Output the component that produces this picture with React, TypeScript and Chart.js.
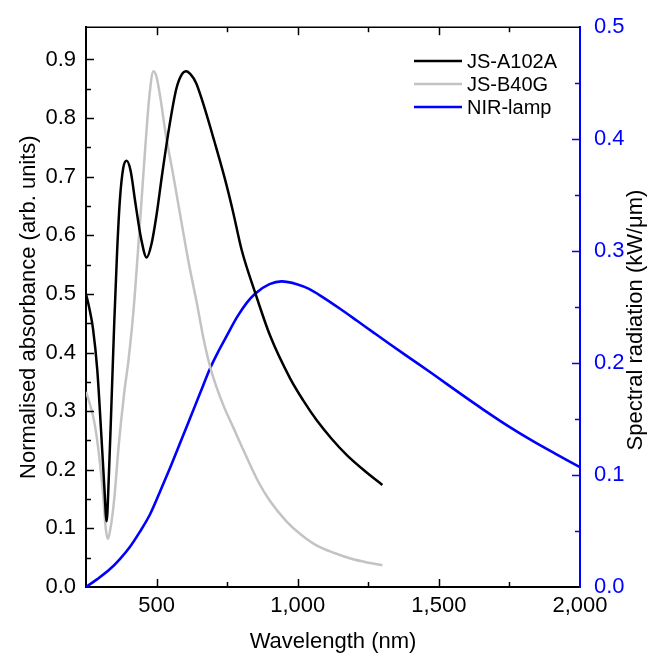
import React, { useEffect, useRef } from 'react';
import { Chart, registerables } from 'chart.js';

Chart.register(...registerables);

// ---- data ----
const SERIES_LABELS = ['JS-A102A', 'JS-B40G', 'NIR-lamp'];

const A_WL = [250, 262, 275, 290, 303, 315, 323, 331, 340, 350, 360, 370, 382, 394, 408, 425, 445, 465, 482, 500, 520, 545, 570, 590, 605, 620, 640, 665, 705, 740, 770, 802, 849, 902, 973, 1020, 1068, 1120, 1174, 1240, 1300];
const A_VAL = [0.5, 0.475, 0.44, 0.37, 0.27, 0.17, 0.112, 0.19, 0.31, 0.45, 0.57, 0.66, 0.715, 0.727, 0.71, 0.655, 0.595, 0.562, 0.585, 0.635, 0.705, 0.785, 0.85, 0.875, 0.88, 0.875, 0.86, 0.825, 0.76, 0.7, 0.642, 0.574, 0.5025, 0.429, 0.356, 0.318, 0.284, 0.253, 0.225, 0.197, 0.174];

const B_WL = [250, 265, 280, 295, 310, 320, 327, 335, 350, 365, 385, 400, 418, 441, 460, 475, 489, 500, 515, 530, 560, 589, 615, 642, 665, 689, 713, 740, 770, 810, 860, 900, 960, 1010, 1070, 1130, 1200, 1300];
const B_VAL = [0.333, 0.31, 0.28, 0.23, 0.16, 0.1, 0.082, 0.095, 0.15, 0.237, 0.33, 0.385, 0.47, 0.62, 0.75, 0.84, 0.88, 0.87, 0.83, 0.78, 0.7, 0.62, 0.55, 0.486, 0.427, 0.377, 0.34, 0.306, 0.274, 0.231, 0.18, 0.148, 0.112, 0.09, 0.07, 0.058, 0.047, 0.037];

const LAMP_WL = [250, 290, 335, 370, 406, 440, 477, 512, 548, 584, 619, 654, 689, 720, 749, 785, 820, 849, 900, 943, 997, 1040, 1091, 1150, 1209, 1270, 1327, 1400, 1480, 1580, 1660, 1750, 1835, 1920, 2000];
const LAMP_VAL = [0, 0.007, 0.016, 0.025, 0.036, 0.049, 0.065, 0.085, 0.1065, 0.129, 0.151, 0.173, 0.195, 0.211, 0.2245, 0.241, 0.254, 0.262, 0.2705, 0.273, 0.2705, 0.2663, 0.2585, 0.2485, 0.238, 0.227, 0.2168, 0.204, 0.19, 0.172, 0.158, 0.143, 0.13, 0.118, 0.107];

const X_TICKS = [500, 1000, 1500, 2000];
const X_MINOR = [750, 1250, 1750];
const Y_TICKS = [0, 0.1, 0.2, 0.3, 0.4, 0.5, 0.6, 0.7, 0.8, 0.9];
const Y_MINOR = [0.05, 0.15, 0.25, 0.35, 0.45, 0.55, 0.65, 0.75, 0.85];
const Y2_TICKS = [0, 0.1, 0.2, 0.3, 0.4, 0.5];
const Y2_MINOR = [0.05, 0.15, 0.25, 0.35, 0.45];

const X_TITLE = 'Wavelength (nm)';
const Y_TITLE = 'Normalised absorbance (arb. units)';
const Y2_TITLE = 'Spectral radiation (kW/\u03bcm)';

const FONT = '"Liberation Sans", Arial, sans-serif';
const BLUE = '#0000ff';

const decor = {
  id: 'decor',
  afterDraw(chart: any) {
    const { ctx, chartArea: a, scales } = chart;
    const xs = scales.x, ys = scales.y, y2 = scales.y2;
    const ln = (x1: number, y1: number, x2: number, y2p: number) => {
      ctx.beginPath();
      ctx.moveTo(x1, y1);
      ctx.lineTo(x2, y2p);
      ctx.stroke();
    };
    ctx.save();
    ctx.strokeStyle = '#000';
    ctx.lineWidth = 1.5;
    ln(a.left, a.top, a.right, a.top);
    X_TICKS.forEach((v) => {
      const p = Math.round(xs.getPixelForValue(v)) + 0.5;
      if (p < a.right - 2) {
        ln(p, a.bottom, p, a.bottom - 8);
        ln(p, a.top, p, a.top + 8);
      }
    });
    X_MINOR.forEach((v) => {
      const p = Math.round(xs.getPixelForValue(v)) + 0.5;
      ln(p, a.bottom, p, a.bottom - 5);
      ln(p, a.top, p, a.top + 5);
    });
    Y_TICKS.forEach((v) => {
      const p = Math.round(ys.getPixelForValue(v)) + 0.5;
      if (p < a.bottom - 2) ln(a.left, p, a.left + 8, p);
    });
    Y_MINOR.forEach((v) => {
      const p = Math.round(ys.getPixelForValue(v)) + 0.5;
      ln(a.left, p, a.left + 5, p);
    });
    ctx.strokeStyle = BLUE;
    Y2_TICKS.forEach((v) => {
      const p = Math.round(y2.getPixelForValue(v)) + 0.5;
      if (p < a.bottom - 2 && p > a.top + 2) ln(a.right, p, a.right - 8, p);
    });
    Y2_MINOR.forEach((v) => {
      const p = Math.round(y2.getPixelForValue(v)) + 0.5;
      ln(a.right, p, a.right - 5, p);
    });

    // right title
    ctx.save();
    ctx.translate(636, 320);
    ctx.rotate(-Math.PI / 2);
    ctx.fillStyle = '#000';
    ctx.font = `22px ${FONT}`;
    ctx.textAlign = 'center';
    ctx.textBaseline = 'middle';
    ctx.fillText(Y2_TITLE, 0, 0);
    ctx.restore();

    // legend
    ctx.font = `20px ${FONT}`;
    ctx.textAlign = 'left';
    ctx.textBaseline = 'middle';
    chart.data.datasets.forEach((ds: any, i: number) => {
      const yy = 61 + i * 23;
      ctx.strokeStyle = ds.borderColor;
      ctx.lineWidth = ds.borderWidth;
      ln(414, yy, 462, yy);
      ctx.fillStyle = '#000';
      ctx.fillText(ds.label, 467, yy + 1);
    });
    ctx.restore();
  },
};

export default function App() {
  const ref = useRef<HTMLCanvasElement | null>(null);
  useEffect(() => {
    if (!ref.current) return;
    const mk = (xsArr: number[], vals: number[]) => xsArr.map((x, i) => ({ x, y: vals[i] }));
    const chart = new Chart(ref.current, {
      type: 'line',
      data: {
        datasets: [
          { label: SERIES_LABELS[0], data: mk(A_WL, A_VAL), borderColor: '#000000', borderWidth: 2.5, pointRadius: 0, cubicInterpolationMode: 'monotone', yAxisID: 'y' },
          { label: SERIES_LABELS[1], data: mk(B_WL, B_VAL), borderColor: '#c3c3c3', borderWidth: 2.5, pointRadius: 0, cubicInterpolationMode: 'monotone', yAxisID: 'y' },
          { label: SERIES_LABELS[2], data: mk(LAMP_WL, LAMP_VAL), borderColor: BLUE, borderWidth: 2.6, pointRadius: 0, cubicInterpolationMode: 'monotone', yAxisID: 'y2' },
        ],
      } as any,
      options: {
        animation: false,
        responsive: false,
        maintainAspectRatio: false,
        devicePixelRatio: 1,
        layout: { padding: { top: 22, left: 0, right: 0, bottom: 0 } },
        plugins: { legend: { display: false }, title: { display: false }, tooltip: { enabled: false } },
        scales: {
          x: {
            type: 'linear',
            position: 'bottom',
            min: 250,
            max: 2000,
            afterBuildTicks: (s: any) => { s.ticks = X_TICKS.map((v) => ({ value: v })); },
            afterFit: (s: any) => { s.height = 77; },
            ticks: {
              color: '#000',
              font: { family: FONT, size: 22 },
              padding: 6,
              maxRotation: 0,
              autoSkip: false,
              callback: (v: any) => Number(v).toLocaleString('en-US'),
            },
            grid: { display: false, drawTicks: false },
            border: { display: true, color: '#000', width: 2 },
            title: { display: true, text: X_TITLE, color: '#000', font: { family: FONT, size: 22 }, padding: { top: 0, bottom: 9 } },
          },
          y: {
            type: 'linear',
            position: 'left',
            min: 0,
            max: 0.955,
            afterBuildTicks: (s: any) => { s.ticks = Y_TICKS.map((v) => ({ value: v })); },
            afterFit: (s: any) => { s.width = 86; },
            ticks: {
              color: '#000',
              font: { family: FONT, size: 22 },
              padding: 10,
              callback: (v: any) => Number(v).toFixed(1),
            },
            grid: { display: false, drawTicks: false },
            border: { display: true, color: '#000', width: 2 },
            title: { display: true, text: Y_TITLE, color: '#000', font: { family: FONT, size: 22 }, padding: { top: 16, bottom: 0 } },
          },
          y2: {
            type: 'linear',
            position: 'right',
            min: 0,
            max: 0.5,
            afterBuildTicks: (s: any) => { s.ticks = Y2_TICKS.map((v) => ({ value: v })); },
            afterFit: (s: any) => { s.width = 79; },
            ticks: {
              color: BLUE,
              font: { family: FONT, size: 22 },
              padding: 14,
              callback: (v: any) => Number(v).toFixed(1),
            },
            grid: { display: false, drawTicks: false },
            border: { display: true, color: BLUE, width: 2 },
            title: { display: false },
          },
        },
      } as any,
      plugins: [decor],
    });
    return () => chart.destroy();
  }, []);

  return (
    <div style={{ position: 'fixed', left: 0, top: 0, width: 659, height: 664, background: '#fff' }}>
      <canvas ref={ref} width={659} height={664} style={{ width: 659, height: 664, display: 'block' }} />
    </div>
  );
}
